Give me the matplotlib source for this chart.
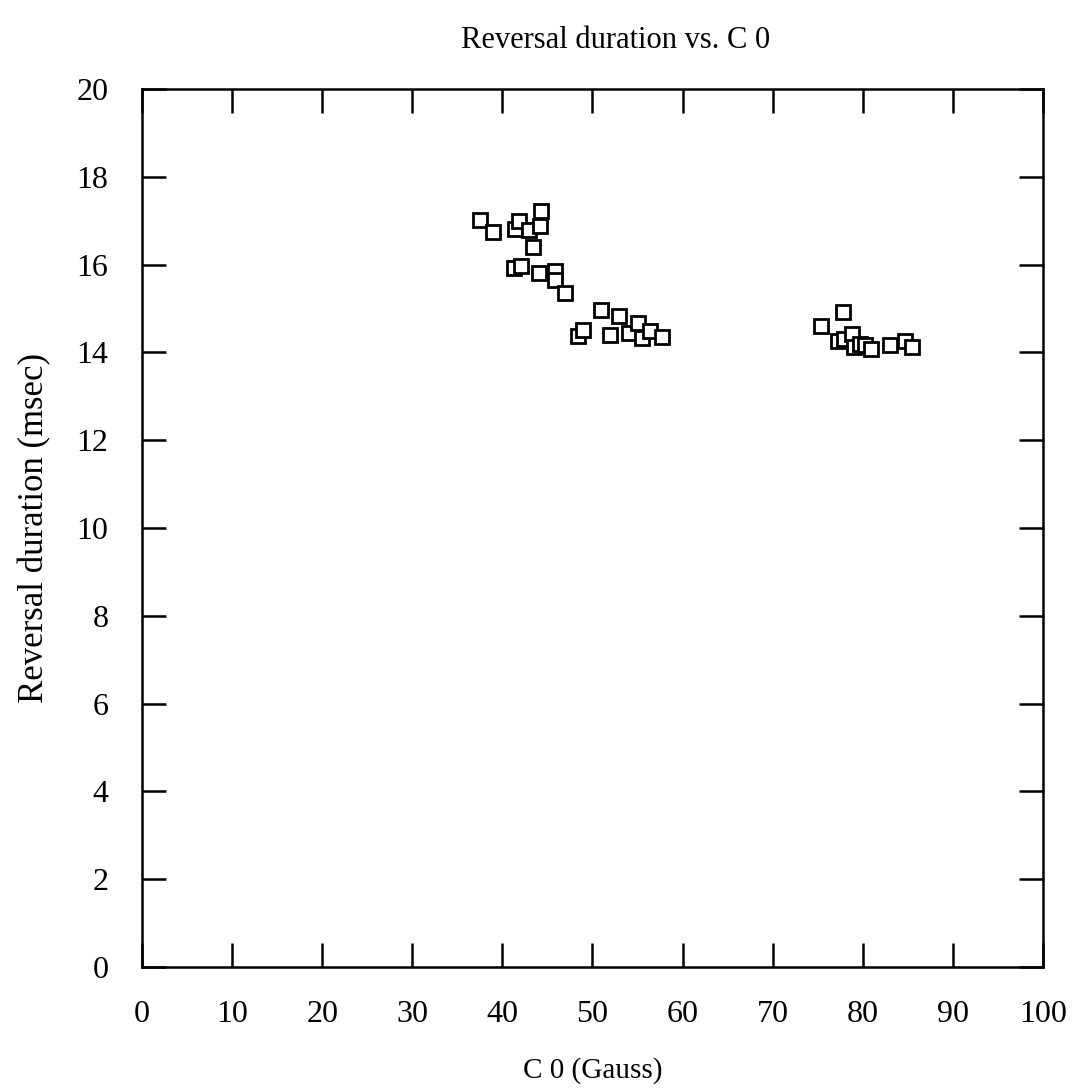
import matplotlib
matplotlib.use("Agg")
import matplotlib.pyplot as plt

# field strength C0 (Gauss) and reversal duration (msec)
c0 = [37.5, 39.0, 41.4, 41.8, 43.0, 44.2, 44.3, 43.4, 41.3, 42.1, 44.1, 45.8,
      45.8, 47.0, 50.9, 52.9, 48.4, 48.9, 51.9, 54.1, 55.1, 55.5, 56.4, 57.7,
      75.4, 77.8, 77.3, 77.9, 78.8, 79.0, 79.7, 80.2, 80.9, 83.0, 84.7, 85.5]
duration = [17.02, 16.75, 16.82, 17.0, 16.8, 16.87, 17.22, 16.4, 15.92, 15.97, 15.82, 15.85,
            15.66, 15.36, 14.97, 14.83, 14.38, 14.52, 14.4, 14.45, 14.68, 14.32, 14.48, 14.35,
            14.6, 14.92, 14.27, 14.3, 14.42, 14.12, 14.2, 14.17, 14.08, 14.17, 14.25, 14.13]

xticks = list(range(0, 101, 10))
yticks = list(range(0, 21, 2))

plt.rcParams['font.family'] = ['Liberation Serif', 'DejaVu Serif']

fig = plt.figure(figsize=(10.73, 10.90), dpi=100)
ax = fig.add_axes([0.1323, 0.1128, 0.8397, 0.8055])

ax.plot(c0, duration, 's', markersize=10, markerfacecolor='white',
        markeredgecolor='black', markeredgewidth=2)

ax.set_xlim(0, 100)
ax.set_ylim(0, 20)
ax.set_xticks(xticks)
ax.set_yticks(yticks)
ax.tick_params(direction='in', length=17, width=1.8, top=True, right=True,
               labelsize=23, pad=24)
ax.tick_params(axis='x', pad=24)
for s in ax.spines.values():
    s.set_linewidth(1.8)

fig.text(0.574, 0.963, "Reversal duration vs. C 0", fontsize=22,
         ha='center', va='center')
ax.set_xlabel("C 0 (Gauss)", fontsize=21, labelpad=20)
ax.set_ylabel("Reversal duration (msec)", fontsize=25, labelpad=18)

fig.savefig("out.png", dpi=100)
